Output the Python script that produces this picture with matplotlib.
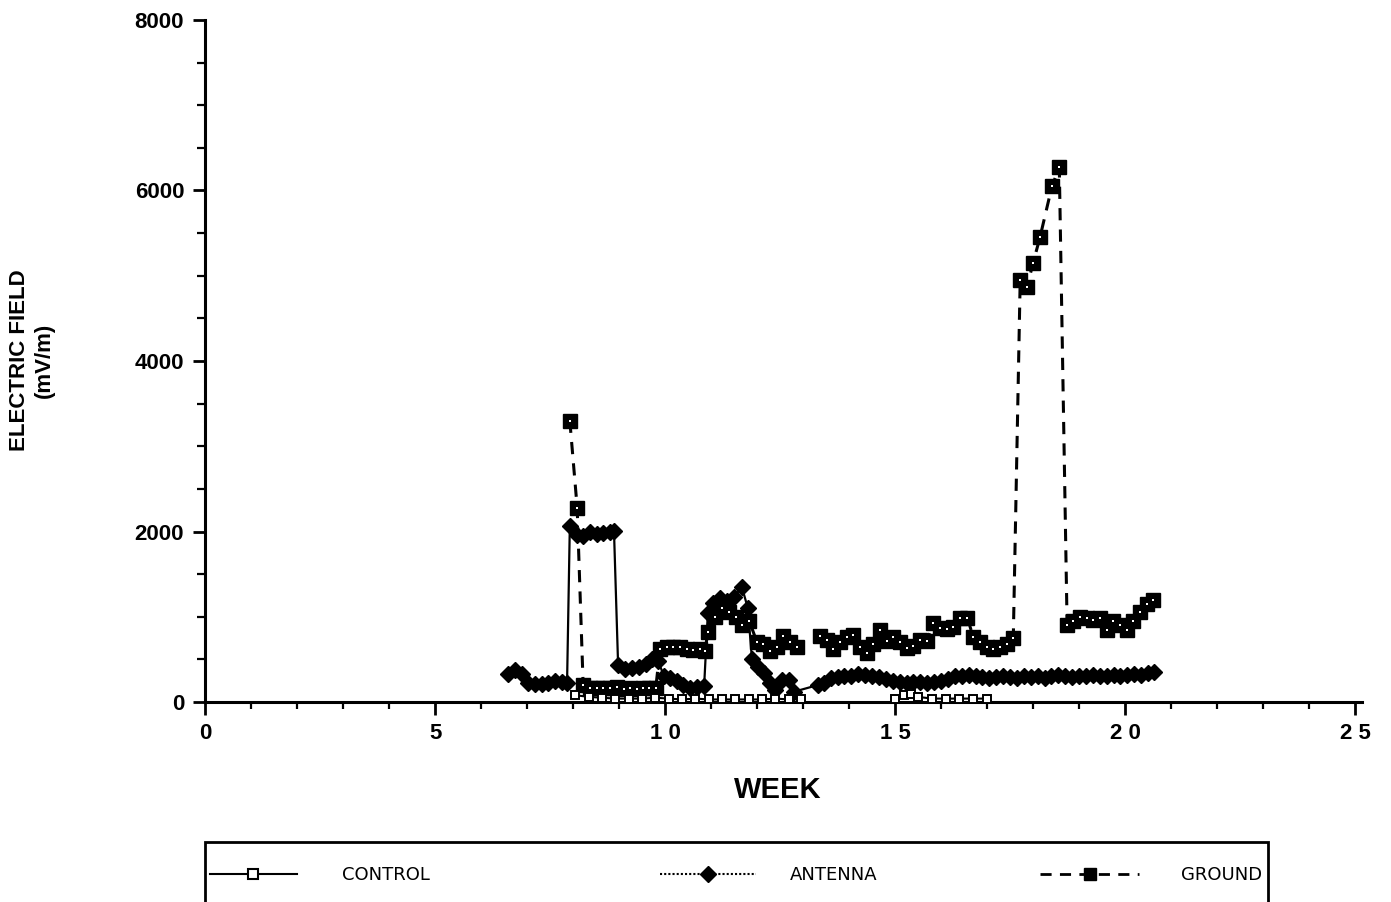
import numpy as np
import matplotlib
matplotlib.use("Agg")
import matplotlib.pyplot as plt
from matplotlib.ticker import MultipleLocator, FixedLocator
from matplotlib.patches import Rectangle
from matplotlib.lines import Line2D

# ---- data (week, mV/m) ----
nan = np.nan

ground_wk = [7.93, 8.09, 8.22, 8.37, 8.52, 8.65, 8.80, 8.95, 9.10, 9.24, 9.38, 9.52, 9.66, 9.80,
             9.89, 10.04, 10.17, 10.33, 10.48, 10.61, 10.76, 10.87,
             10.93, 11.09, 11.24, 11.39, 11.54, 11.67, 11.83,
             12.00, 12.13, 12.28, 12.43, 12.57, 12.72, 12.87, 13.10,
             13.37, 13.52, 13.65, 13.80, 13.96, 14.09, 14.24, 14.39, 14.52, 14.67, 14.83, 14.96,
             15.11, 15.26, 15.39, 15.54, 15.70, 15.83, 15.98, 16.13, 16.26, 16.41, 16.57, 16.70,
             16.85, 17.00, 17.13, 17.28, 17.43, 17.57,
             17.72, 17.87, 18.00, 18.15, 18.41, 18.57,
             18.74, 18.87, 19.02, 19.17, 19.30, 19.46, 19.61, 19.74, 19.89, 20.04, 20.17, 20.33,
             20.48, 20.61]
ground_val = [3300, 2280, 200, 170, 160, 160, 170, 180, 150, 160, 150, 160, 170, 170,
              620, 650, 640, 640, 620, 610, 620, 600,
              820, 1000, 1100, 1050, 1000, 900, 950,
              700, 680, 600, 650, 780, 700, 640, nan,
              780, 730, 620, 700, 760, 790, 640, 575, 680, 840, 720, 760,
              700, 630, 660, 730, 720, 930, 870, 860, 880, 980, 990, 760,
              700, 640, 620, 640, 680, 750,
              4950, 4870, 5150, 5450, 6050, 6270,
              900, 950, 1000, 980, 960, 980, 850, 950, 900, 850, 950, 1050,
              1150, 1200]

antenna_wk = [6.59, 6.74, 6.89, 7.02, 7.17, 7.33, 7.46, 7.61, 7.76, 7.87,
              7.93, 8.09, 8.22, 8.37, 8.52, 8.65, 8.80, 8.89,
              8.98, 9.13, 9.28, 9.43, 9.59, 9.72, 9.85,
              9.98, 10.10, 10.25, 10.40, 10.55, 10.70, 10.85,
              10.93, 11.05, 11.20, 11.35, 11.50, 11.67, 11.80,
              11.89, 12.02, 12.15, 12.28, 12.40, 12.55, 12.70, 12.80,
              13.33, 13.45, 13.60, 13.75, 13.90, 14.05, 14.20, 14.35, 14.50, 14.65, 14.80, 14.95,
              15.10, 15.25, 15.40, 15.55, 15.70, 15.85, 16.00, 16.15, 16.30, 16.45, 16.60, 16.75,
              16.90, 17.05, 17.20, 17.35, 17.50, 17.65, 17.80, 17.95, 18.10, 18.25, 18.40, 18.55,
              18.70, 18.85, 19.00, 19.15, 19.30, 19.45, 19.60, 19.75, 19.90, 20.05, 20.20, 20.35,
              20.50, 20.63]
antenna_val = [330, 370, 330, 220, 210, 210, 220, 250, 230, 220,
               2060, 1960, 1950, 1990, 1970, 1980, 1990, 2010,
               430, 390, 400, 410, 450, 500, 480,
               300, 280, 250, 200, 160, 180, 190,
               1040, 1160, 1220, 1180, 1230, 1350, 1100,
               500, 410, 340, 220, 140, 260, 260, 120,
               200, 220, 280, 290, 300, 310, 330, 320, 300, 290, 270, 250,
               230, 220, 235, 230, 220, 240, 250, 270, 300, 310, 320, 300,
               290, 280, 290, 300, 290, 280, 300, 290, 300, 280, 310, 320,
               300, 290, 310, 300, 320, 300, 310, 320, 300, 320, 330, 320,
               340, 350]

control_wk = [8.05, 8.34, 8.63, 8.92, 9.21, 9.50, 9.79, 10.08, 10.37, 10.66, 10.95,
              11.24, 11.53, 11.82, 12.11, 12.40, 12.69, 12.95, 14.0,
              15.00, 15.20, 15.35, 15.50, 15.80, 16.10, 16.40, 16.70, 17.00]
control_val = [80, 60, 50, 40, 40, 40, 50, 40, 30, 40, 30,
               30, 30, 30, 30, 40, 30, 40, nan,
               40, 80, 90, 60, 40, 40, 40, 40, 40]

x_ticks = [0, 5, 10, 15, 20, 25]
x_tick_labels = ["0", "5", "1 0", "1 5", "2 0", "2 5"]
y_ticks = [0, 2000, 4000, 6000, 8000]

plt.rcParams['font.family'] = ['Liberation Sans', 'DejaVu Sans']

fig = plt.figure(figsize=(13.91, 9.02), dpi=100)
ax = fig.add_axes([205 / 1391, 1 - 702 / 902, (1362 - 205) / 1391, (702 - 20) / 902])

# ground: dashed, black squares with a small white centre dot
ax.plot(ground_wk, ground_val, color='black', linestyle=(0, (4, 3)), linewidth=2.2,
        marker='s', markersize=9.5, markerfacecolor='black', markeredgecolor='black', zorder=3)
ax.plot(ground_wk, ground_val, linestyle='none', marker='s', markersize=2.0,
        markeredgewidth=0, markerfacecolor='white', zorder=4)

# antenna: fine line, filled diamonds
ax.plot(antenna_wk, antenna_val, color='black', linestyle='-', linewidth=1.6,
        marker='D', markersize=8.5, markerfacecolor='black', markeredgecolor='black', zorder=3)

# control: solid thin, small open squares
ax.plot(control_wk, control_val, color='black', linestyle='-', linewidth=1.5,
        marker='s', markersize=5.5, markerfacecolor='white', markeredgecolor='black',
        markeredgewidth=1.4, zorder=5)

ax.set_xlim(0, 25.15)
ax.set_ylim(0, 8000)
for s in ['top', 'right']:
    ax.spines[s].set_visible(False)
for s in ['left', 'bottom']:
    ax.spines[s].set_linewidth(2.2)

ax.xaxis.set_major_locator(FixedLocator(x_ticks))
ax.set_xticklabels(x_tick_labels)
ax.xaxis.set_minor_locator(MultipleLocator(1))
ax.yaxis.set_major_locator(FixedLocator(y_ticks))
ax.yaxis.set_minor_locator(MultipleLocator(500))

ax.tick_params(axis='x', which='major', direction='out', length=9, width=2, pad=6,
               labelsize=16)
ax.tick_params(axis='x', which='minor', direction='out', length=5, width=1.6)
ax.tick_params(axis='y', which='major', direction='out', length=9, width=2, pad=6,
               labelsize=16)
ax.tick_params(axis='y', which='minor', direction='out', length=6, width=1.6)
for lab in ax.get_xticklabels() + ax.get_yticklabels():
    lab.set_fontweight('bold')

fig.text(778 / 1391, 1 - 790 / 902, 'WEEK', ha='center', va='center',
         fontsize=21, fontweight='bold')
fig.text(20 / 1391, 1 - 360 / 902, 'ELECTRIC FIELD', ha='center', va='center',
         rotation=90, fontsize=16, fontweight='bold')
fig.text(44 / 1391, 1 - 360 / 902, '(mV/m)', ha='center', va='center',
         rotation=90, fontsize=16, fontweight='bold')

# legend box (runs off the bottom edge like the scan)
fig.patches.append(Rectangle((205 / 1391, -0.05), (1268 - 205) / 1391, 0.05 + 1 - 842 / 902,
                             transform=fig.transFigure, fill=False, edgecolor='black',
                             linewidth=2, clip_on=False))

h_control = Line2D([], [], color='black', linestyle='-', linewidth=1.5, marker='s',
                   markersize=7, markerfacecolor='white', markeredgecolor='black',
                   markeredgewidth=1.5)
h_antenna = Line2D([], [], color='black', linestyle=(0, (1, 1)), linewidth=1.5, marker='D',
                   markersize=8, markerfacecolor='black')
h_ground = Line2D([], [], color='black', linestyle=(0, (4, 3)), linewidth=2, marker='s',
                  markersize=8, markerfacecolor='black')

leg_font = ['Liberation Sans Narrow', 'DejaVu Sans Condensed', 'DejaVu Sans']
for h, lab, x0, hl, pad in [(h_control, 'CONTROL', 210, 4.8, 2.5),
                            (h_antenna, 'ANTENNA', 660, 5.3, 1.9),
                            (h_ground, 'GROUND', 1040, 5.5, 2.3)]:
    fig.legend(handles=[h], labels=[lab], loc='center left',
               bbox_to_anchor=(x0 / 1391, 1 - 875 / 902), frameon=False,
               handlelength=hl, handletextpad=pad, borderpad=0, borderaxespad=0,
               prop={'family': leg_font, 'size': 13})

fig.savefig('out.png', dpi=100)
